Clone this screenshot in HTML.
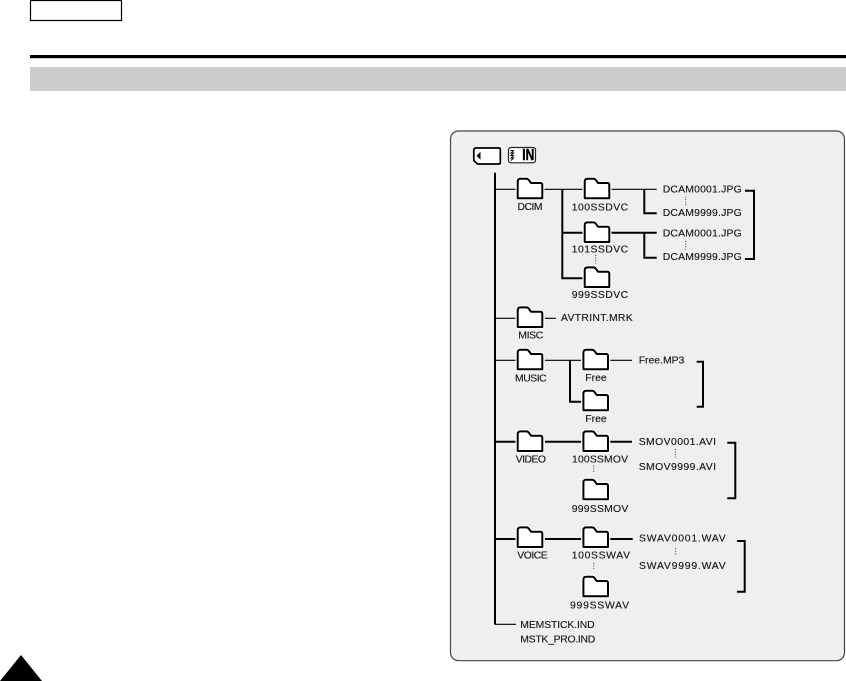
<!DOCTYPE html>
<html>
<head>
<meta charset="utf-8">
<style>
html,body{margin:0;padding:0;background:#fff;width:846px;height:681px;overflow:hidden}
svg{display:block}
text{font-family:"Liberation Sans",sans-serif;font-size:10.4px;fill:#111;stroke:#111;stroke-width:0.12}
</style>
</head>
<body>
<svg width="846" height="681" viewBox="0 0 846 681" xmlns="http://www.w3.org/2000/svg">
<defs>
<g id="f">
<path d="M0.7 20.3V3.5Q0.7 0.7 3.5 0.7H9.5Q11 0.7 12 2.2L14 5H23.5Q25.3 5 25.3 6.8V20.3Z" fill="#fff" stroke="#fff" stroke-width="4.5" stroke-linejoin="round"/>
<path d="M0.7 20.3V3.5Q0.7 0.7 3.5 0.7H9.5Q11 0.7 12 2.2L14 5H23.5Q25.3 5 25.3 6.8V20.3Z" fill="#fff" stroke="#000" stroke-width="2" stroke-linejoin="round"/>
</g>
</defs>

<rect x="30.5" y="0.5" width="91" height="20" fill="#fff" stroke="#000" stroke-width="1.2"/>
<rect x="30" y="55" width="816" height="3.2" fill="#000"/>
<rect x="30" y="67" width="816" height="24" fill="#ccc"/>
<polygon points="21,655 42,681 0,681" fill="#000"/>

<rect x="450.5" y="131" width="394" height="529.7" rx="8" ry="8" fill="#efefef" stroke="#444" stroke-width="1.2"/>

<!-- media icons -->
<path d="M476 148H499Q500.3 148 500.3 149.5V162.5Q500.3 164 499 164H477.5L473.8 160.5V150.5Q473.8 148 476 148Z" fill="#fff" stroke="#000" stroke-width="1.7"/>
<polygon points="476.5,155.7 480.5,151.8 480.5,159.6" fill="#000"/>
<rect x="508.5" y="147.5" width="27" height="15.3" rx="2.5" fill="#fff" stroke="#222" stroke-width="1.2"/>
<path d="M510.5 150.5H513.5L511 153H513.5L511 155.5H513.5L511 158H513.5L511 160.5" stroke="#000" stroke-width="1" fill="none"/>
<text x="522.3" y="160" textLength="12" lengthAdjust="spacingAndGlyphs" style="font-size:15.5px;font-weight:bold;fill:#000;stroke:#000;stroke-width:0.5">IN</text>

<!-- connectors -->
<g fill="none" stroke="#000">
<g stroke-width="2">
<path d="M495 172.7V624.5"/>
<path d="M562.3 189.3V278.3H584M562.3 232.7H584"/>
<path d="M644.3 189.3V213.3H656.7"/>
<path d="M611 232.7H656.7M644.3 232.7V257.7H656.7"/>
<path d="M745 190.7H754V259H745"/>
<path d="M570 360.3V401.7H581"/>
<path d="M696.7 361.7H703V406.7H696.7"/>
<path d="M495 441.7H517M545 441.7H581M610 441.7H632"/>
<path d="M727.3 442.7H735.3V498.3H727.3"/>
<path d="M495 539H517M545 539H581M610 539H632.7"/>
<path d="M737 541H744.7V591.7H737"/>
</g>
<g stroke-width="1.2">
<path d="M495 189.3H517M543 189.3H584M611 189.3H656.7"/>
<path d="M495 318.3H517M545 318.3H556"/>
<path d="M495 360.3H517M545 360.3H581M610 360.3H632"/>
<path d="M495 624.3H516"/>
</g>
<g stroke-width="1" stroke-dasharray="1 1.6" stroke="#333">
<path d="M685.7 196.5V205.5M685.7 241V249.5M595.7 255V263.5"/>
<path d="M675.3 449V457.5M593.7 465.7V473.5"/>
<path d="M675.7 548V556M593.7 562.7V570.5"/>
</g>
</g>

<!-- folders -->
<use href="#f" x="517" y="178"/>
<use href="#f" x="584" y="178"/>
<use href="#f" x="584" y="221.7"/>
<use href="#f" x="584" y="266.7"/>
<use href="#f" x="517" y="306.7"/>
<use href="#f" x="517" y="349"/>
<use href="#f" x="582.7" y="349"/>
<use href="#f" x="582.7" y="390"/>
<use href="#f" x="517" y="430.7"/>
<use href="#f" x="582.7" y="430.7"/>
<use href="#f" x="582.7" y="479"/>
<use href="#f" x="517" y="526.7"/>
<use href="#f" x="582.7" y="526.7"/>
<use href="#f" x="582.7" y="576"/>

<!-- labels -->
<text x="517.5" y="210" textLength="25">DCIM</text>
<text x="571.7" y="210.5" textLength="56.5">100SSDVC</text>
<text x="571.7" y="252.7" textLength="56.5">101SSDVC</text>
<text x="571.7" y="298" textLength="56.5">999SSDVC</text>
<text x="662.7" y="192.7" textLength="79">DCAM0001.JPG</text>
<text x="662.7" y="216" textLength="79">DCAM9999.JPG</text>
<text x="662.7" y="236.7" textLength="79">DCAM0001.JPG</text>
<text x="662.7" y="260" textLength="79">DCAM9999.JPG</text>

<text x="518.3" y="338.7" textLength="25">MISC</text>
<text x="561" y="321" textLength="71.7">AVTRINT.MRK</text>

<text x="515" y="381.7" textLength="31.7">MUSIC</text>
<text x="585.3" y="381" textLength="21.4">Free</text>
<text x="585.3" y="422" textLength="21.4">Free</text>
<text x="638.7" y="363.3" textLength="45.6">Free.MP3</text>

<text x="515.7" y="462.7" textLength="30.3">VIDEO</text>
<text x="572" y="462.7" textLength="56">100SSMOV</text>
<text x="571.7" y="512" textLength="56.6">999SSMOV</text>
<text x="638.7" y="445" textLength="77.3">SMOV0001.AVI</text>
<text x="638.7" y="470" textLength="77.3">SMOV9999.AVI</text>

<text x="517.3" y="558.7" textLength="30.4">VOICE</text>
<text x="571.7" y="558.7" textLength="58.3">100SSWAV</text>
<text x="570" y="608.3" textLength="59">999SSWAV</text>
<text x="639" y="541.7" textLength="86.7">SWAV0001.WAV</text>
<text x="639" y="569" textLength="86.7">SWAV9999.WAV</text>

<text x="520.3" y="628" textLength="74.4">MEMSTICK.IND</text>
<text x="520.3" y="642.7" textLength="75">MSTK_PRO.IND</text>
</svg>
</body>
</html>
